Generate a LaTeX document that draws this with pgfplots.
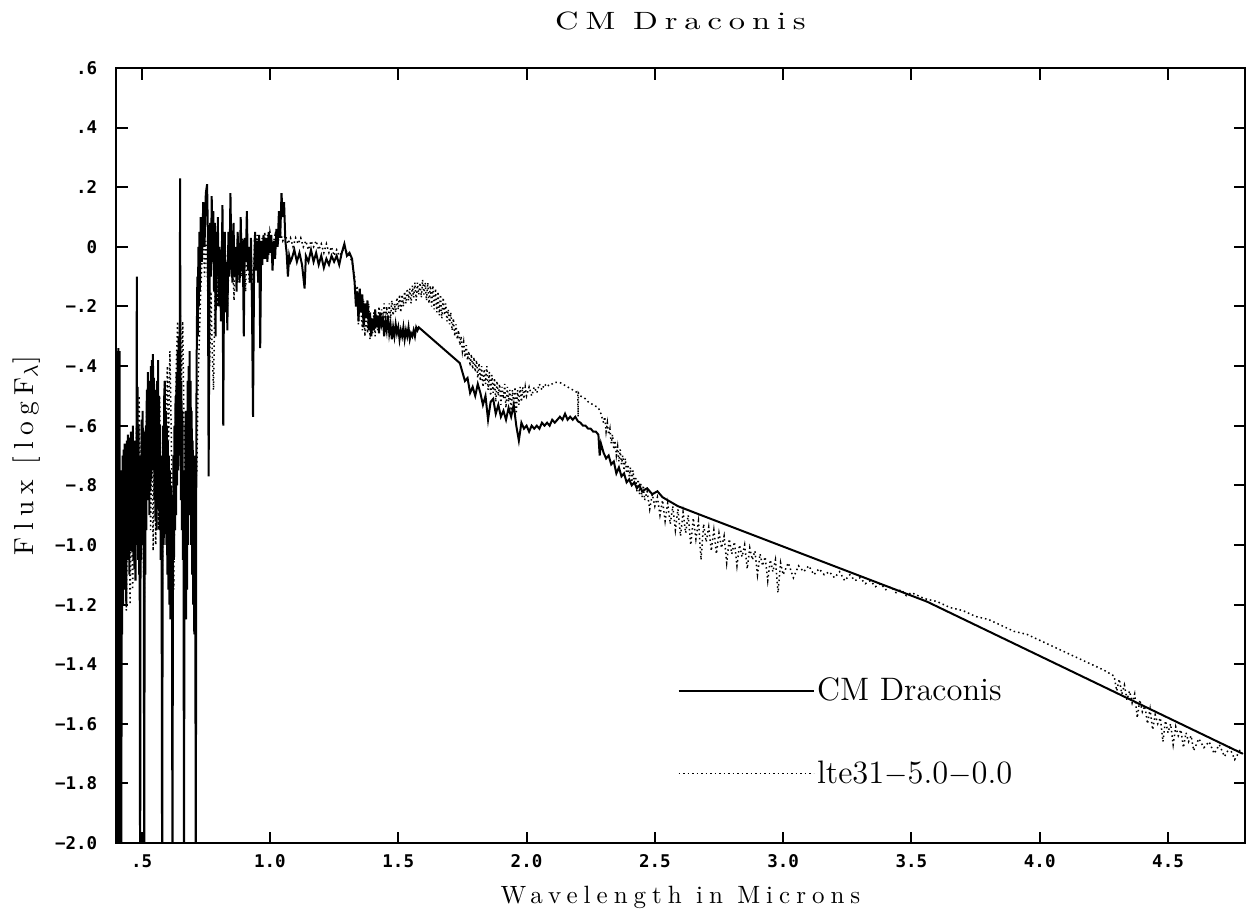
\documentclass[border=0pt]{standalone}
\usepackage{fontspec}
\usepackage{pgfplots}
\pgfplotsset{compat=1.18}
\newfontfamily\tickfont{DejaVu Sans Mono}
\newfontfamily\tspaced[LetterSpace=27.6, FakeStretch=1.3]{lmroman10-regular.otf}
\newfontfamily\spaced[LetterSpace=24]{lmroman10-regular.otf}

\begin{document}
\begin{tikzpicture}
\useasboundingbox (-46.4pt,-30pt) rectangle (453.2pt,337.2pt);
\begin{axis}[
  scale only axis,
  width=451.6pt, height=310pt,
  xmin=0.4, xmax=4.8,
  ymin=-2.0, ymax=0.6,
  axis line style={line width=1pt},
  tick style={line width=0.8pt, black},
  major tick length=4.6pt,
  tick align=inside,
  xtick={0.5,1.0,1.5,2.0,2.5,3.0,3.5,4.0,4.5},
  xticklabels={.5,1.0,1.5,2.0,2.5,3.0,3.5,4.0,4.5},
  ytick={-2.0,-1.8,-1.6,-1.4,-1.2,-1.0,-0.8,-0.6,-0.4,-0.2,0,0.2,0.4,0.6},
  yticklabels={−2.0,−1.8,−1.6,−1.4,−1.2,−1.0,−.8,−.6,−.4,−.2,0,.2,.4,.6},
  minor tick num=0,
  ticklabel style={font=\tickfont\bfseries\fontsize{7}{8}\selectfont},
  xticklabel style={anchor=north, yshift=-1pt},
  yticklabel style={anchor=east, xshift=-4pt},
  title={CM Draconis},
  title style={at={(axis description cs:0.5,1)}, anchor=base, yshift=9.4pt,
    font=\tspaced\fontsize{10}{12}\selectfont},
  xlabel={Wavelength in Microns},
  xlabel style={at={(axis description cs:0.5,0)}, anchor=base, yshift=-24pt,
    font=\spaced\fontsize{10}{12}\selectfont},
  ylabel={Flux [logF$_\lambda$]},
  ylabel style={at={(axis description cs:0,0.5)}, anchor=base, yshift=33pt,
    font=\spaced\fontsize{11}{13}\selectfont},
  legend style={draw=none, fill=none, at={(rel axis cs:0.497,0.217)}, anchor=north west,
    font=\fontsize{13}{15}\selectfont, row sep=20.4pt, inner sep=0pt,
    nodes={inner sep=1pt}},
  legend cell align=left,
  legend image code/.code={\draw[#1] (0pt,0pt) -- (54pt,0pt);},
]
% CM Draconis (observed)
\addplot[black, line width=0.8pt] coordinates {
(0.400,-0.80)(0.401,-1.95)(0.402,-0.40)(0.403,-2.30)(0.404,-0.35)(0.405,-1.60)(0.406,-2.30)(0.407,-0.55)
(0.408,-1.90)(0.409,-0.34)(0.410,-1.30)(0.411,-2.30)(0.412,-1.00)(0.413,-1.70)(0.414,-0.35)(0.415,-1.20)
(0.416,-2.30)(0.417,-0.90)(0.418,-1.85)(0.419,-0.75)(0.420,-1.40)(0.421,-2.30)(0.422,-0.80)(0.424,-1.30)
(0.426,-0.70)(0.428,-1.20)(0.430,-0.68)(0.432,-1.15)(0.434,-0.66)(0.436,-1.10)(0.438,-0.72)(0.440,-1.20)
(0.442,-0.65)(0.444,-1.05)(0.446,-0.63)(0.448,-1.00)(0.450,-0.70)(0.452,-1.10)(0.454,-0.64)(0.456,-0.98)
(0.458,-0.62)(0.460,-1.02)(0.462,-0.66)(0.464,-0.95)(0.466,-0.60)(0.468,-1.05)(0.470,-0.70)(0.472,-1.08)
(0.474,-0.65)(0.476,-1.12)(0.478,-0.80)(0.480,-1.00)(0.481,-0.10)(0.482,-0.85)(0.484,-0.47)(0.486,-1.05)
(0.488,-0.60)(0.490,-1.10)(0.492,-0.75)(0.494,-2.30)(0.496,-0.70)(0.498,-1.05)(0.500,-0.58)(0.502,-0.95)
(0.504,-0.55)(0.506,-1.00)(0.508,-0.62)(0.510,-2.30)(0.512,-0.80)(0.514,-1.10)(0.516,-0.60)(0.518,-0.95)
(0.520,-0.48)(0.522,-0.85)(0.524,-0.42)(0.526,-0.80)(0.528,-0.50)(0.530,-0.90)(0.532,-0.45)(0.534,-0.82)
(0.536,-0.40)(0.538,-0.78)(0.540,-0.38)(0.542,-0.70)(0.544,-0.36)(0.546,-0.75)(0.548,-0.44)(0.550,-0.85)
(0.552,-0.48)(0.554,-0.92)(0.556,-0.55)(0.558,-0.95)(0.560,-0.45)(0.562,-0.88)(0.564,-0.38)(0.566,-0.80)
(0.568,-0.50)(0.570,-0.95)(0.572,-0.60)(0.574,-1.05)(0.576,-0.70)(0.578,-1.20)(0.580,-2.30)(0.582,-0.90)
(0.584,-0.60)(0.586,-1.00)(0.588,-0.50)(0.590,-0.45)(0.592,-0.90)(0.594,-0.55)(0.596,-1.00)(0.598,-0.60)
(0.600,-1.10)(0.602,-0.65)(0.604,-1.15)(0.606,-0.70)(0.608,-1.20)(0.610,-0.75)(0.612,-1.25)(0.614,-0.80)
(0.616,-1.25)(0.618,-0.90)(0.620,-2.30)(0.622,-1.00)(0.624,-0.70)(0.626,-1.05)(0.628,-0.60)(0.630,-0.95)
(0.632,-0.50)(0.634,-0.90)(0.636,-0.42)(0.638,-0.80)(0.640,-0.35)(0.642,-0.75)(0.644,-0.30)(0.646,-0.70)
(0.648,-0.40)(0.650,0.23)(0.651,-0.50)(0.653,-0.85)(0.655,-0.45)(0.657,-0.95)(0.659,-0.55)(0.661,-1.05)
(0.663,-0.75)(0.665,-2.30)(0.667,-0.85)(0.669,-1.20)(0.671,-0.55)(0.673,-1.25)(0.675,-0.60)(0.677,-1.15)
(0.679,-0.45)(0.681,-1.00)(0.683,-0.40)(0.685,-0.90)(0.687,-0.35)(0.689,-0.85)(0.691,-0.45)(0.693,-1.00)
(0.695,-0.55)(0.697,-1.10)(0.699,-0.65)(0.701,-1.20)(0.703,-0.80)(0.705,-1.30)(0.707,-0.70)(0.709,-1.10)
(0.711,-2.30)(0.713,-0.60)(0.715,-0.30)(0.717,-0.10)(0.719,-0.30)(0.721,0.00)(0.723,-0.20)(0.725,0.05)
(0.727,-0.15)(0.730,0.10)(0.735,-0.05)(0.740,0.15)(0.745,0.00)(0.750,0.18)(0.755,0.21)
(0.758,0.05)(0.761,-0.77)(0.764,-0.20)(0.767,0.08)(0.770,-0.10)(0.773,0.17)(0.776,-0.05)(0.779,0.12)
(0.782,-0.15)(0.785,0.08)(0.788,-0.30)(0.791,0.05)(0.794,-0.10)(0.797,0.10)(0.800,-0.20)(0.803,0.00)
(0.806,-0.08)(0.809,-0.25)(0.812,-0.05)(0.815,0.14)(0.818,-0.60)(0.821,-0.12)(0.824,0.05)(0.827,-0.22)
(0.830,-0.05)(0.834,-0.28)(0.838,0.05)(0.842,-0.10)(0.846,0.18)(0.850,-0.05)(0.854,-0.12)(0.858,0.08)
(0.862,-0.10)(0.866,0.00)(0.870,-0.15)(0.874,0.05)(0.878,-0.05)(0.882,-0.12)(0.886,0.10)(0.890,-0.08)
(0.894,0.02)(0.898,-0.30)(0.902,0.03)(0.906,-0.05)(0.910,0.12)(0.914,-0.08)(0.918,0.00)(0.922,-0.12)
(0.926,0.03)(0.930,-0.20)(0.934,-0.57)(0.938,-0.10)(0.942,0.05)(0.946,-0.08)(0.950,0.02)(0.954,-0.12)
(0.958,0.04)(0.962,-0.34)(0.966,0.02)(0.970,-0.06)(0.975,0.04)(0.980,-0.04)(0.985,0.03)(0.990,-0.05)
(0.995,0.05)(1.000,-0.02)(1.005,0.04)(1.010,-0.08)(1.015,0.02)(1.020,-0.04)(1.025,0.06)(1.030,0.00)
(1.035,0.12)(1.040,0.03)(1.045,0.18)(1.050,0.10)(1.055,0.15)(1.060,0.02)(1.065,-0.02)(1.070,-0.10)
(1.075,-0.03)(1.080,-0.05)(1.085,-0.04)(1.095,-0.01)(1.105,-0.05)(1.115,-0.02)(1.125,-0.06)(1.135,-0.14)
(1.140,-0.03)(1.150,-0.05)(1.160,-0.01)(1.170,-0.05)(1.180,-0.02)(1.190,-0.06)(1.200,-0.03)(1.210,-0.07)
(1.220,-0.04)(1.230,-0.06)(1.240,-0.03)(1.250,-0.05)(1.260,-0.03)(1.270,-0.06)(1.280,-0.02)(1.290,0.01)
(1.300,-0.03)(1.310,-0.02)(1.320,-0.04)(1.330,-0.12)(1.335,-0.20)(1.340,-0.15)(1.345,-0.25)(1.350,-0.14)
(1.355,-0.22)(1.360,-0.16)(1.365,-0.27)(1.370,-0.19)(1.375,-0.24)(1.380,-0.18)(1.385,-0.28)(1.390,-0.22)
(1.395,-0.30)(1.400,-0.24)(1.405,-0.28)(1.410,-0.21)(1.415,-0.27)(1.420,-0.23)(1.425,-0.29)(1.430,-0.22)
(1.435,-0.26)(1.440,-0.24)(1.445,-0.30)(1.450,-0.25)(1.455,-0.28)(1.460,-0.23)(1.465,-0.29)(1.470,-0.26)
(1.475,-0.31)(1.480,-0.27)(1.485,-0.30)(1.490,-0.26)(1.495,-0.29)(1.500,-0.27)(1.505,-0.31)(1.510,-0.28)
(1.515,-0.30)(1.520,-0.27)(1.525,-0.31)(1.530,-0.28)(1.535,-0.30)(1.540,-0.27)(1.545,-0.31)(1.550,-0.29)
(1.555,-0.30)(1.560,-0.28)(1.565,-0.30)(1.570,-0.27)(1.575,-0.28)(1.580,-0.27)(1.740,-0.39)(1.750,-0.42)
(1.760,-0.45)(1.770,-0.44)(1.780,-0.49)(1.790,-0.47)(1.800,-0.50)(1.810,-0.46)(1.820,-0.49)(1.830,-0.53)
(1.840,-0.50)(1.850,-0.58)(1.860,-0.52)(1.870,-0.51)(1.880,-0.56)(1.890,-0.53)(1.900,-0.57)(1.910,-0.55)
(1.920,-0.58)(1.930,-0.54)(1.940,-0.57)(1.950,-0.53)(1.960,-0.60)(1.970,-0.65)(1.980,-0.59)(1.990,-0.61)
(2.000,-0.60)(2.010,-0.62)(2.020,-0.60)(2.030,-0.61)(2.040,-0.60)(2.050,-0.61)(2.060,-0.59)(2.070,-0.60)
(2.080,-0.59)(2.090,-0.60)(2.100,-0.58)(2.110,-0.59)(2.120,-0.58)(2.130,-0.57)(2.140,-0.58)(2.150,-0.56)
(2.160,-0.58)(2.170,-0.57)(2.180,-0.58)(2.190,-0.57)(2.200,-0.585)(2.210,-0.59)(2.220,-0.60)(2.230,-0.60)
(2.240,-0.61)(2.250,-0.61)(2.260,-0.62)(2.270,-0.62)(2.280,-0.63)(2.285,-0.70)(2.290,-0.66)(2.300,-0.69)
(2.310,-0.71)(2.320,-0.70)(2.330,-0.73)(2.340,-0.72)(2.350,-0.76)(2.360,-0.74)(2.370,-0.77)(2.380,-0.76)
(2.390,-0.79)(2.400,-0.78)(2.410,-0.80)(2.420,-0.79)(2.430,-0.81)(2.440,-0.80)(2.450,-0.82)(2.470,-0.81)
(2.490,-0.83)(2.510,-0.82)(2.530,-0.84)(2.550,-0.85)(2.570,-0.86)(2.590,-0.87)(2.620,-0.88)(2.650,-0.89)
(2.680,-0.90)(3.560,-1.19)(4.790,-1.70)
};
\addlegendentry{CM Draconis}
% lte31-5.0-0.0 (model)
\addplot[black, line width=0.6pt, dash pattern=on 0.6pt off 1.2pt] coordinates {
(0.400,-1.20)(0.405,-0.95)(0.410,-1.25)(0.415,-0.90)(0.420,-1.15)(0.425,-0.85)(0.430,-1.10)(0.435,-0.80)
(0.440,-1.22)(0.445,-0.90)(0.450,-0.80)(0.455,-1.20)(0.460,-0.82)(0.465,-1.15)(0.470,-0.75)(0.475,-1.05)
(0.480,-0.60)(0.485,-0.85)(0.490,-0.50)(0.495,-0.80)(0.500,-0.60)(0.505,-0.95)(0.510,-1.20)(0.515,-0.70)
(0.520,-0.55)(0.525,-0.85)(0.530,-0.60)(0.535,-0.95)(0.540,-0.62)(0.545,-1.02)(0.550,-0.60)(0.555,-1.00)
(0.560,-0.62)(0.565,-0.95)(0.570,-0.50)(0.575,-0.80)(0.580,-1.15)(0.585,-0.75)(0.590,-0.45)(0.595,-0.70)
(0.600,-0.40)(0.605,-0.65)(0.610,-0.35)(0.615,-0.60)(0.620,-0.95)(0.625,-1.15)(0.630,-0.70)(0.635,-0.40)
(0.640,-0.25)(0.645,-0.50)(0.650,-0.20)(0.655,-0.45)(0.660,-0.25)(0.665,-0.60)(0.670,-1.00)(0.675,-1.05)
(0.680,-0.55)(0.685,-0.75)(0.690,-0.55)(0.695,-0.90)(0.700,-0.70)(0.705,-1.15)(0.710,-0.80)(0.715,-0.75)
(0.720,-0.45)(0.725,-0.30)(0.730,-0.15)(0.735,-0.05)(0.740,0.05)(0.745,-0.10)(0.750,0.02)(0.755,-0.05)
(0.760,-0.25)(0.765,-0.40)(0.770,-0.15)(0.775,-0.35)(0.780,-0.48)(0.785,-0.20)(0.790,-0.05)(0.795,-0.20)
(0.800,0.00)(0.805,-0.15)(0.810,-0.25)(0.815,-0.05)(0.820,-0.15)(0.825,0.02)(0.830,-0.12)(0.835,-0.20)
(0.840,-0.05)(0.845,0.05)(0.850,-0.10)(0.855,-0.05)(0.860,-0.18)(0.865,0.00)(0.870,-0.08)(0.875,0.05)
(0.880,-0.12)(0.885,-0.02)(0.890,-0.10)(0.895,0.03)(0.900,-0.06)(0.905,-0.15)(0.910,0.02)(0.915,-0.05)
(0.920,-0.12)(0.925,0.00)(0.930,-0.08)(0.935,-0.15)(0.940,0.03)(0.945,-0.05)(0.950,0.04)(0.955,-0.08)
(0.960,0.02)(0.965,-0.10)(0.970,0.03)(0.975,-0.03)(0.980,0.05)(0.985,-0.02)(0.990,0.04)(0.995,-0.03)
(1.000,0.05)(1.010,0.00)(1.020,0.04)(1.030,0.01)(1.040,0.05)(1.050,0.02)(1.060,0.04)(1.070,0.01)
(1.080,0.03)(1.090,0.00)(1.100,0.03)(1.110,0.01)(1.120,0.03)(1.130,0.00)(1.140,0.02)(1.150,-0.01)
(1.160,0.02)(1.170,0.00)(1.180,0.02)(1.190,-0.01)(1.200,0.01)(1.210,-0.02)(1.220,0.01)(1.230,-0.02)
(1.240,0.00)(1.250,-0.03)(1.260,-0.01)(1.270,-0.03)(1.280,-0.02)(1.290,0.00)(1.300,-0.02)(1.310,-0.03)
(1.320,-0.05)(1.330,-0.10)(1.335,-0.18)(1.340,-0.13)(1.345,-0.26)(1.350,-0.15)(1.355,-0.21)(1.360,-0.28)
(1.365,-0.18)(1.370,-0.30)(1.375,-0.22)(1.380,-0.29)(1.385,-0.19)(1.390,-0.31)(1.395,-0.24)(1.400,-0.29)
(1.405,-0.22)(1.410,-0.30)(1.415,-0.23)(1.420,-0.28)(1.425,-0.20)(1.430,-0.27)(1.435,-0.21)(1.440,-0.26)
(1.445,-0.19)(1.450,-0.25)(1.455,-0.20)(1.460,-0.26)(1.465,-0.19)(1.470,-0.24)(1.475,-0.18)(1.480,-0.23)
(1.485,-0.19)(1.490,-0.22)(1.495,-0.17)(1.500,-0.21)(1.505,-0.16)(1.510,-0.22)(1.515,-0.16)(1.520,-0.20)
(1.525,-0.15)(1.530,-0.19)(1.535,-0.14)(1.540,-0.18)(1.545,-0.14)(1.550,-0.19)(1.555,-0.13)(1.560,-0.17)
(1.565,-0.12)(1.570,-0.18)(1.575,-0.12)(1.580,-0.16)(1.585,-0.12)(1.590,-0.17)(1.595,-0.11)(1.600,-0.16)
(1.605,-0.12)(1.610,-0.18)(1.615,-0.12)(1.620,-0.19)(1.625,-0.13)(1.630,-0.20)(1.635,-0.13)(1.640,-0.21)
(1.645,-0.14)(1.650,-0.22)(1.655,-0.15)(1.660,-0.23)(1.665,-0.16)(1.670,-0.24)(1.675,-0.17)(1.680,-0.23)
(1.685,-0.19)(1.690,-0.25)(1.695,-0.21)(1.700,-0.26)(1.705,-0.22)(1.710,-0.28)(1.715,-0.24)(1.720,-0.30)
(1.725,-0.26)(1.730,-0.31)(1.735,-0.28)(1.740,-0.33)(1.745,-0.30)(1.750,-0.35)(1.755,-0.32)(1.760,-0.37)
(1.765,-0.33)(1.770,-0.38)(1.775,-0.35)(1.780,-0.40)(1.785,-0.36)(1.790,-0.41)(1.795,-0.37)(1.800,-0.42)
(1.805,-0.38)(1.810,-0.44)(1.815,-0.39)(1.820,-0.45)(1.825,-0.40)(1.830,-0.47)(1.835,-0.41)(1.840,-0.46)
(1.845,-0.40)(1.850,-0.48)(1.855,-0.42)(1.860,-0.50)(1.865,-0.43)(1.870,-0.49)(1.875,-0.44)(1.880,-0.52)
(1.885,-0.45)(1.890,-0.50)(1.895,-0.46)(1.900,-0.53)(1.905,-0.47)(1.910,-0.51)(1.915,-0.46)(1.920,-0.54)
(1.925,-0.47)(1.930,-0.52)(1.935,-0.48)(1.940,-0.55)(1.945,-0.48)(1.950,-0.53)(1.955,-0.47)(1.960,-0.56)
(1.965,-0.48)(1.970,-0.53)(1.975,-0.47)(1.980,-0.52)(1.985,-0.47)(1.990,-0.51)(1.995,-0.47)(2.000,-0.50)
(2.010,-0.47)(2.020,-0.50)(2.030,-0.47)(2.040,-0.49)(2.050,-0.46)(2.060,-0.48)(2.070,-0.46)(2.080,-0.47)
(2.090,-0.46)(2.100,-0.46)(2.110,-0.455)(2.120,-0.455)(2.130,-0.455)(2.140,-0.46)(2.150,-0.465)(2.160,-0.47)
(2.170,-0.475)(2.180,-0.48)(2.190,-0.485)(2.200,-0.49)(2.201,-0.57)(2.202,-0.49)(2.210,-0.50)(2.220,-0.505)
(2.230,-0.51)(2.240,-0.52)(2.250,-0.525)(2.260,-0.53)(2.270,-0.535)(2.280,-0.54)(2.290,-0.56)(2.300,-0.59)
(2.305,-0.57)(2.310,-0.62)(2.315,-0.59)(2.320,-0.63)(2.325,-0.61)(2.330,-0.66)(2.335,-0.63)(2.340,-0.68)
(2.345,-0.65)(2.350,-0.70)(2.355,-0.67)(2.360,-0.72)(2.365,-0.68)(2.370,-0.73)(2.375,-0.70)(2.380,-0.75)
(2.385,-0.71)(2.390,-0.76)(2.395,-0.73)(2.400,-0.77)(2.405,-0.74)(2.410,-0.79)(2.415,-0.75)(2.420,-0.80)
(2.425,-0.77)(2.430,-0.82)(2.435,-0.78)(2.440,-0.83)(2.445,-0.79)(2.450,-0.84)(2.455,-0.80)(2.460,-0.85)
(2.470,-0.82)(2.480,-0.88)(2.490,-0.83)(2.500,-0.87)(2.510,-0.84)(2.520,-0.90)(2.530,-0.85)(2.540,-0.92)
(2.550,-0.86)(2.560,-0.93)(2.570,-0.87)(2.580,-0.95)(2.590,-0.88)(2.600,-0.97)(2.610,-0.89)(2.620,-0.96)
(2.630,-0.90)(2.640,-1.00)(2.650,-0.91)(2.660,-0.98)(2.670,-0.92)(2.680,-1.05)(2.690,-0.93)(2.700,-0.99)
(2.710,-0.94)(2.720,-1.02)(2.730,-0.95)(2.740,-1.03)(2.750,-0.96)(2.760,-1.01)(2.770,-0.97)(2.780,-1.06)
(2.790,-0.98)(2.800,-1.03)(2.810,-0.99)(2.820,-1.07)(2.830,-1.00)(2.840,-1.04)(2.850,-1.00)(2.860,-1.08)
(2.870,-1.01)(2.880,-1.05)(2.890,-1.02)(2.900,-1.10)(2.910,-1.03)(2.920,-1.07)(2.930,-1.04)(2.940,-1.12)
(2.950,-1.05)(2.960,-1.09)(2.970,-1.05)(2.980,-1.16)(2.990,-1.06)(3.000,-1.10)(3.020,-1.06)(3.040,-1.11)
(3.060,-1.07)(3.080,-1.09)(3.100,-1.07)(3.120,-1.10)(3.140,-1.08)(3.160,-1.10)(3.180,-1.09)(3.200,-1.11)
(3.220,-1.09)(3.240,-1.12)(3.260,-1.10)(3.280,-1.12)(3.300,-1.11)(3.320,-1.13)(3.340,-1.12)(3.360,-1.14)
(3.380,-1.13)(3.400,-1.15)(3.420,-1.14)(3.440,-1.16)(3.460,-1.15)(3.480,-1.17)(3.500,-1.16)(3.550,-1.18)
(3.600,-1.19)(3.650,-1.21)(3.700,-1.22)(3.750,-1.24)(3.800,-1.25)(3.850,-1.27)(3.900,-1.29)(3.950,-1.30)
(4.000,-1.32)(4.050,-1.34)(4.100,-1.36)(4.150,-1.38)(4.200,-1.40)(4.250,-1.42)(4.290,-1.44)(4.300,-1.49)
(4.310,-1.45)(4.320,-1.50)(4.330,-1.47)(4.340,-1.52)(4.350,-1.49)(4.360,-1.53)(4.370,-1.50)(4.380,-1.58)
(4.390,-1.52)(4.400,-1.56)(4.410,-1.54)(4.420,-1.60)(4.430,-1.55)(4.440,-1.62)(4.450,-1.57)(4.460,-1.60)
(4.470,-1.58)(4.480,-1.66)(4.490,-1.59)(4.500,-1.63)(4.510,-1.60)(4.520,-1.67)(4.530,-1.61)(4.540,-1.64)
(4.550,-1.62)(4.560,-1.68)(4.570,-1.63)(4.580,-1.66)(4.590,-1.64)(4.600,-1.69)(4.620,-1.65)(4.640,-1.68)
(4.660,-1.66)(4.680,-1.70)(4.700,-1.67)(4.720,-1.71)(4.740,-1.68)(4.760,-1.72)(4.780,-1.69)(4.800,-1.71)
};
\addlegendentry{lte31$-$5.0$-$0.0}
\end{axis}
\end{tikzpicture}
\end{document}
